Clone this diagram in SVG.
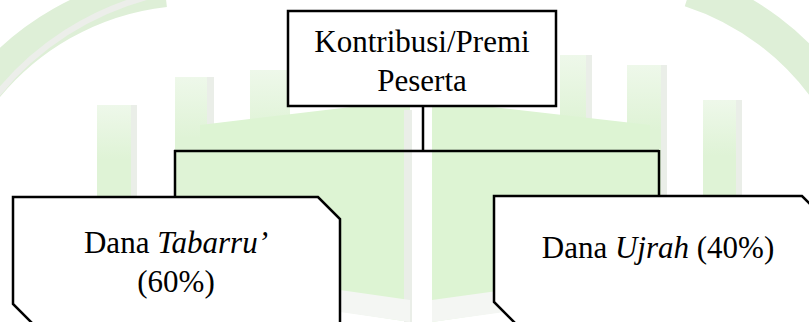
<svg xmlns="http://www.w3.org/2000/svg" width="809" height="322" viewBox="0 0 809 322">
<style>
.node{fill:#ffffff;stroke:#000000;stroke-width:2.5}
.conn{fill:none;stroke:#000000;stroke-width:2.5}
.t{font-family:"Liberation Serif","Times New Roman",serif;font-size:31px;fill:#000000;text-anchor:middle}
.wm{fill:url(#barfade)}
.wg{fill:#eaeee8}
.pg{fill:#ddf4d3}
</style>
<defs>
<linearGradient id="barfade" x1="0" y1="0" x2="0" y2="1">
<stop offset="0" stop-color="#eef8ea"/>
<stop offset="0.25" stop-color="#dff3d6"/>
<stop offset="1" stop-color="#dff3d6"/>
</linearGradient>
</defs>
<rect x="0" y="0" width="809" height="322" fill="#ffffff"/>
<g id="watermark">
<path d="M-20,95 A270,270 0 0 1 165,-10" fill="none" stroke="#deefd7" stroke-width="34"/>
<path d="M-20,118 A290,290 0 0 1 180,-10" fill="none" stroke="#eceeea" stroke-width="6"/>
<path d="M690,-10 A270,270 0 0 1 830,95" fill="none" stroke="#deefd7" stroke-width="34"/>
<rect class="wm" x="97" y="105" width="34" height="217"/>
<rect class="wg" x="131" y="105" width="6" height="217"/>
<rect class="wm" x="175" y="77" width="32" height="245"/>
<rect class="wg" x="207" y="77" width="7" height="245"/>
<rect class="wm" x="250" y="70" width="40" height="252"/>
<rect class="wm" x="560" y="55" width="26" height="267"/>
<rect class="wg" x="586" y="55" width="6" height="267"/>
<rect class="wm" x="627" y="65" width="34" height="257"/>
<rect class="wg" x="661" y="65" width="6" height="257"/>
<rect class="wm" x="703" y="100" width="33" height="222"/>
<rect class="wg" x="736" y="100" width="6" height="222"/>
<polygon class="pg" points="200,125 410,100 410,322 200,290"/>
<polygon class="pg" points="432,100 650,125 650,290 432,322"/>
<rect class="wg" x="404" y="110" width="8" height="212"/>
<polygon fill="#f4f6f3" points="200,270 410,300 410,322 200,292"/>
<polygon fill="#f4f6f3" points="432,300 650,270 650,292 432,322"/>
</g>
<g id="connectors">
<path class="conn" d="M423,106 V151"/>
<path class="conn" d="M174,151 H659"/>
<path class="conn" d="M175,150 V197"/>
<path class="conn" d="M659,150 V196"/>
</g>
<g id="node-premi">
<rect class="node" x="288" y="11" width="268" height="95"/>
<text class="t" x="422" y="52">Kontribusi/Premi</text>
<text class="t" x="422" y="91">Peserta</text>
</g>
<g id="node-tabarru">
<polygon class="node" points="13,197 318,197 340,219 340,345 35,345 35,326 13,304"/>
<text class="t" x="176" y="253">Dana <tspan font-style="italic">Tabarru’</tspan></text>
<text class="t" x="176" y="292">(60%)</text>
</g>
<g id="node-ujrah">
<polygon class="node" points="494,196 802,196 824,218 824,345 516,345 516,324 494,302"/>
<text class="t" x="658" y="258">Dana <tspan font-style="italic">Ujrah</tspan> (40%)</text>
</g>
</svg>
